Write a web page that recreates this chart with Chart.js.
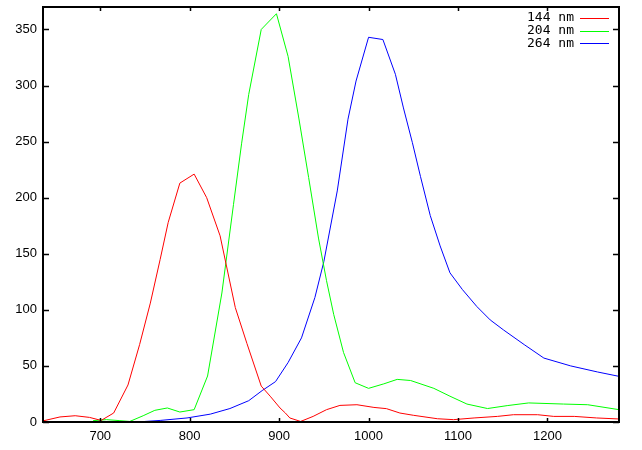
<!DOCTYPE html>
<html>
<head>
<meta charset="utf-8">
<script src="https://cdn.jsdelivr.net/npm/chart.js@4.4.0/dist/chart.umd.min.js"></script>
<style>
  html, body { margin: 0; padding: 0; background: #fff; }
  #wrap { width: 642px; height: 450px; }
</style>
</head>
<body>
<div id="wrap"><canvas id="spectra"></canvas></div>
<script>
  // wavelength (nm) / intensity pairs
  const red144X = [636, 655, 672, 688, 701, 715, 731, 744, 756, 767, 776, 789, 805, 819, 834, 851, 864, 880, 890, 901, 907, 912, 924, 938, 953, 968, 987, 1006, 1020, 1035, 1050, 1077, 1095, 1118, 1144, 1162, 1189, 1207, 1230, 1255, 1280];
  const red144Y = [1, 4.5, 5.6, 4.1, 1.4, 8, 33, 69, 106, 145, 178, 213, 221, 200, 166, 102, 70, 32, 23, 12.5, 8, 3.6, 0.5, 5, 11, 14.8, 15.4, 13, 11.9, 8, 6, 2.9, 2.1, 3.6, 5, 6.5, 6.5, 5, 5, 3.6, 2.7];

  const green204X = [692, 707, 722, 733, 748, 761, 775, 789, 805, 820, 836, 849, 858, 866, 880, 897, 910, 922, 933, 944, 953, 961, 972, 985, 1000, 1017, 1032, 1047, 1073, 1091, 1110, 1133, 1155, 1179, 1218, 1245, 1280];
  const green204Y = [1.2, 2.1, 1.2, 0.5, 5.6, 10.4, 12.5, 8.9, 11, 41, 115, 194, 248, 292, 350, 364, 326, 271, 218, 164, 126, 96, 62, 35, 30, 34, 38, 37, 30, 23, 16, 12, 14.6, 17, 16, 15.4, 11];

  const blue264X = [750, 767, 797, 823, 845, 866, 881, 896, 910, 925, 940, 950, 965, 977, 986, 1000, 1016, 1030, 1039, 1049, 1058, 1069, 1080, 1091, 1105, 1121, 1136, 1151, 1174, 1196, 1226, 1256, 1280];
  const blue264Y = [0.5, 1.4, 3.6, 7, 12, 19, 28, 36, 53, 75, 111, 143, 206, 270, 304, 343, 341, 310, 280, 249, 219, 184, 157, 133, 118, 103, 91, 82, 69, 57, 50, 44.6, 40.7];

  const xTicks = [700, 800, 900, 1000, 1100, 1200];
  const yTicks = [0, 50, 100, 150, 200, 250, 300, 350];
  const seriesLabels = ['144 nm', '204 nm', '264 nm'];
  const seriesColors = ['#ff0000', '#00ff00', '#0000ff'];

  const pairs = (xs, ys) => xs.map((x, i) => ({ x: x, y: ys[i] }));
  const tickFont = { family: 'Liberation Sans', size: 13 };

  // gnuplot-like frame: border, inward ticks mirrored on all sides, line-sample key
  const gnuFrame = {
    id: 'gnuFrame',
    afterDraw(chart) {
      const ctx = chart.ctx;
      const a = chart.chartArea;
      const xs = chart.scales.x, ys = chart.scales.y;
      ctx.save();
      ctx.strokeStyle = '#000';
      ctx.lineWidth = 1.5;
      ctx.beginPath();
      xTicks.forEach(v => {
        const px = Math.round(xs.getPixelForValue(v)) + 0.5;
        ctx.moveTo(px, a.bottom); ctx.lineTo(px, a.bottom - 4);
        ctx.moveTo(px, a.top); ctx.lineTo(px, a.top + 4);
      });
      yTicks.forEach(v => {
        const py = Math.round(ys.getPixelForValue(v)) + 0.5;
        ctx.moveTo(a.left, py); ctx.lineTo(a.left + 6, py);
        ctx.moveTo(a.right, py); ctx.lineTo(a.right - 6, py);
      });
      ctx.stroke();
      ctx.lineWidth = 2;
      ctx.strokeRect(a.left, a.top, a.right - a.left, a.bottom - a.top);

      // key
      ctx.font = '13px "DejaVu Sans Mono"';
      ctx.textAlign = 'right';
      ctx.textBaseline = 'middle';
      ctx.lineWidth = 1;
      chart.data.datasets.forEach((ds, i) => {
        const y = a.top + 11 + i * 12.7;
        ctx.fillStyle = '#000';
        ctx.fillText(ds.label, a.right - 45, y);
        ctx.strokeStyle = ds.borderColor;
        ctx.beginPath();
        ctx.moveTo(a.right - 39, Math.round(y) + 0.5);
        ctx.lineTo(a.right - 10, Math.round(y) + 0.5);
        ctx.stroke();
      });
      ctx.restore();
    }
  };

  new Chart(document.getElementById('spectra'), {
    type: 'line',
    data: {
      datasets: [
        { label: seriesLabels[0], data: pairs(red144X, red144Y), borderColor: seriesColors[0] },
        { label: seriesLabels[1], data: pairs(green204X, green204Y), borderColor: seriesColors[1] },
        { label: seriesLabels[2], data: pairs(blue264X, blue264Y), borderColor: seriesColors[2] }
      ]
    },
    options: {
      responsive: true,
      maintainAspectRatio: false,
      animation: false,
      elements: {
        line: { borderWidth: 1, tension: 0, fill: false },
        point: { radius: 0, hoverRadius: 0 }
      },
      layout: { padding: { top: 7, right: 23, left: 0, bottom: 0 } },
      plugins: { legend: { display: false }, tooltip: { enabled: false } },
      scales: {
        x: {
          type: 'linear',
          min: 636,
          max: 1280,
          afterBuildTicks: s => { s.ticks = xTicks.map(v => ({ value: v })); },
          afterFit: s => { s.height = 28; s.paddingLeft = 0; s.paddingRight = 0; },
          grid: { display: false, drawTicks: false },
          border: { display: false },
          ticks: { color: '#000', font: tickFont, padding: 7, maxRotation: 0, callback: v => String(v) }
        },
        y: {
          type: 'linear',
          min: 0,
          max: 370,
          afterBuildTicks: s => { s.ticks = yTicks.map(v => ({ value: v })); },
          afterFit: s => { s.width = 43; s.paddingTop = 0; s.paddingBottom = 0; },
          grid: { display: false, drawTicks: false },
          border: { display: false },
          ticks: { color: '#000', font: tickFont, padding: 6, callback: v => String(v) }
        }
      }
    },
    plugins: [gnuFrame]
  });
</script>
</body>
</html>
